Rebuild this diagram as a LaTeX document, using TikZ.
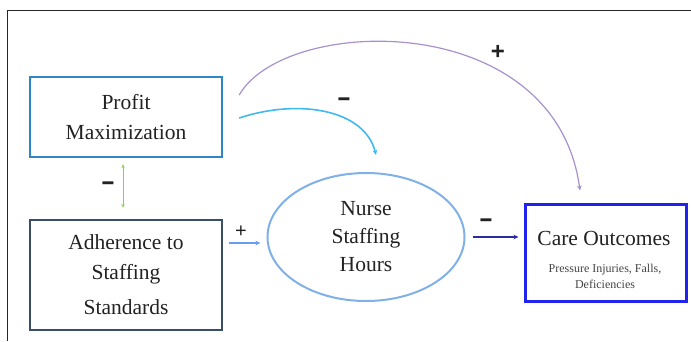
\documentclass[tikz,border=0pt]{standalone}
\usepackage{fontspec}
\setmainfont{Liberation Serif}
\newfontfamily\signfont{Liberation Sans}
\usetikzlibrary{arrows.meta,shapes.geometric}
\definecolor{profitblue}{HTML}{2F86C6}
\definecolor{adhblue}{HTML}{3A4D6B}
\definecolor{ellblue}{HTML}{80B0E8}
\definecolor{careblue}{HTML}{2222EE}
\definecolor{cyanarr}{HTML}{40B8F0}
\definecolor{purplearr}{HTML}{A890CC}
\definecolor{greenarr}{HTML}{8CD050}
\definecolor{lightarr}{HTML}{6A9CF0}
\definecolor{navyarr}{HTML}{2C2C9C}
\definecolor{txt}{HTML}{222222}
\tikzset{
  boxnode/.style={rectangle, minimum width=192pt, text=txt, align=center,
    font=\fontsize{21.5}{30}\selectfont, inner sep=0pt},
  signlabel/.style={font=\signfont\bfseries\fontsize{24}{24}\selectfont, text=txt, inner sep=0pt},
  minuslabel/.style={signlabel, xscale=1.8, transform shape},
  tip/.style={-{Stealth[length=5pt,width=4.5pt]}},
}
\begin{document}
\begin{tikzpicture}[x=1pt,y=-1pt]
\useasboundingbox (0,0) rectangle (691,341);
\draw[line width=1.3pt, black!85] (7.5,341) -- (7.5,10.5) -- (691,10.5);

\node[boxnode, draw=profitblue, line width=2.4pt, minimum height=80pt] (pm) at (126,117) {Profit\\Maximization};
\node[boxnode, draw=adhblue, line width=2.4pt, minimum height=110pt] (adh) at (126,275) {Adherence to\\Staffing\\[5pt]Standards};
\node[ellipse, draw=ellblue, line width=2pt, minimum width=197pt, minimum height=128pt,
  text=txt, align=center, font=\fontsize{21.5}{28}\selectfont, inner sep=0pt] (ns) at (366,237) {Nurse\\Staffing\\Hours};
\node[rectangle, draw=careblue, line width=3pt, minimum width=161pt, minimum height=97pt] (care) at (605.5,252.5) {};
\node[text=txt, font=\fontsize{21.5}{24}\selectfont, inner sep=0pt] (caret) at (604,238) {Care Outcomes};
\node[text=txt!85, align=center, font=\fontsize{12}{16}\selectfont, inner sep=0pt] (cares) at (605,276) {Pressure Injuries, Falls,\\Deficiencies};

% green double arrow
\draw[greenarr, line width=1pt, {Stealth[length=4pt,width=3.5pt]}-{Stealth[length=4pt,width=3.5pt]}]
  ([xshift=-3pt,yshift=-6pt]pm.south) -- ([xshift=-3pt,yshift=11pt]adh.north);
\node[minuslabel] (m1) at (108,186) {-};

% adherence -> nurse
\draw[lightarr, line width=1.1pt, tip] ([xshift=6pt,yshift=32pt]adh.east) -- ([xshift=-6pt,yshift=-6pt]ns.west);
\node[font=\signfont\fontsize{20}{20}\selectfont, text=txt, inner sep=0pt] (p1) at (241,232) {+};

% nurse -> care
\draw[navyarr, line width=1.3pt, tip] ([xshift=7pt]ns.east) -- ([xshift=-5pt,yshift=15.5pt]care.west);
\node[minuslabel] (m2) at (486,223) {-};

% cyan curve
\draw[cyanarr, line width=1.6pt, tip] ([xshift=16pt,yshift=-1pt]pm.east) .. controls (300,98) and (365,110) .. ([xshift=10pt,yshift=17pt]ns.north);
\node[minuslabel] (m3) at (344,102) {-};

% purple arc
\draw[purplearr, line width=1.2pt, tip] ([xshift=16pt,yshift=22pt]pm.east) .. controls (285,15) and (555,8) .. ([xshift=-25.5pt,yshift=12pt]care.north);
\node[signlabel] (p2) at (498,52) {+};
\end{tikzpicture}
\end{document}
